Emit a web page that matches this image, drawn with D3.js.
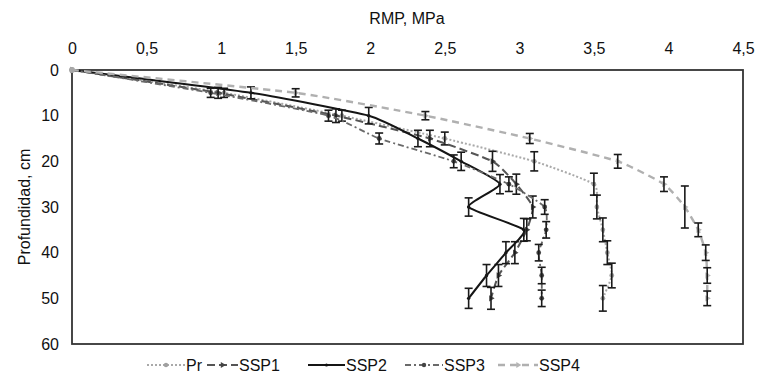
<!doctype html>
<html lang="es">
<head>
  <meta charset="utf-8">
  <title>RMP vs profundidad</title>
  <style>
    body { margin: 0; background: #fff; }
    svg { font-family: "Liberation Sans", Arial, sans-serif; }
  </style>
</head>
<body>
  <script src="https://cdn.jsdelivr.net/npm/d3@7/dist/d3.min.js"></script>
  <svg width="761" height="386"></svg>
  <script>
    // depth (cm) and RMP (MPa) per treatment
    const depth = [0, 5, 10, 15, 20, 25, 30, 35, 40, 45, 50];
    const pr   = [0, 1.02, 1.81, 2.50, 3.10, 3.50, 3.52, 3.56, 3.59, 3.62, 3.56];
    const ssp1 = [0, 0.98, 1.77, 2.40, 2.82, 2.98, 3.09, 3.05, 2.97, 2.86, 2.81];
    const ssp2 = [0, 1.20, 1.99, 2.32, 2.61, 2.87, 2.66, 3.03, 2.91, 2.78, 2.66];
    const ssp3 = [0, 0.93, 1.72, 2.06, 2.56, 2.93, 3.17, 3.18, 3.13, 3.15, 3.15];
    const ssp4 = [0, 1.50, 2.37, 3.07, 3.66, 3.97, 4.11, 4.20, 4.25, 4.26, 4.26];
    // half length of the (vertical) error bars, cm
    const prErr   = [0, 1.0, 1.2, 1.4, 2.1, 2.4, 2.6, 2.6, 2.6, 2.7, 2.8];
    const ssp1Err = [0, 1.2, 1.5, 1.8, 2.2, 2.2, 2.4, 2.4, 2.4, 2.4, 2.4];
    const ssp2Err = [0, 1.3, 1.8, 1.8, 2.0, 2.1, 2.0, 2.5, 2.4, 2.4, 2.2];
    const ssp3Err = [0, 1.0, 1.2, 1.2, 1.4, 1.6, 1.6, 1.8, 1.8, 1.8, 1.8];
    const ssp4Err = [0, 0.9, 0.9, 1.1, 1.5, 1.6, 4.6, 1.5, 1.7, 1.7, 1.6];
    const xTicks = [0, 0.5, 1, 1.5, 2, 2.5, 3, 3.5, 4, 4.5];
    const yTicks = [0, 10, 20, 30, 40, 50, 60];

    const series = [
      {name: "Pr",   vals: pr,   err: prErr,   color: "#a9a9a9", dash: "2,2",     width: 2,   marker: "circle", mcol: "#a0a0a0"},
      {name: "SSP1", vals: ssp1, err: ssp1Err, color: "#555",    dash: "8,4",     width: 2,   marker: "tri",    mcol: "#444"},
      {name: "SSP2", vals: ssp2, err: ssp2Err, color: "#151515", dash: null,      width: 2,   marker: "dot",    mcol: "#111"},
      {name: "SSP3", vals: ssp3, err: ssp3Err, color: "#6a6a6a", dash: "6,3,2,3", width: 1.8, marker: "circle", mcol: "#444"},
      {name: "SSP4", vals: ssp4, err: ssp4Err, color: "#b0b0b0", dash: "7,5",     width: 2.4, marker: "tri",    mcol: "#b5b5b5"}
    ];

    const svg = d3.select("svg");
    const x = d3.scaleLinear().domain([0, 4.5]).range([72, 743]);
    const y = d3.scaleLinear().domain([0, 60]).range([70, 344]);
    const fmt = d => String(d).replace(".", ",");
    const FS = 16;

    // axes (no tick marks, only labels)
    const xAxis = svg.append("g").attr("transform", "translate(0,54)")
      .call(d3.axisTop(x).tickValues(xTicks).tickSize(0).tickPadding(0).tickFormat(fmt));
    xAxis.select(".domain").remove();
    xAxis.selectAll("text").attr("font-size", FS).attr("fill", "#111").attr("font-family", "Liberation Sans, Arial, sans-serif");

    const yAxis = svg.append("g").attr("transform", "translate(59,0)")
      .call(d3.axisLeft(y).tickValues(yTicks).tickSize(0).tickPadding(0));
    yAxis.select(".domain").remove();
    yAxis.selectAll("text").attr("font-size", FS).attr("fill", "#111").attr("font-family", "Liberation Sans, Arial, sans-serif");

    svg.append("text").attr("x", 407).attr("y", 24).attr("text-anchor", "middle")
      .attr("font-size", FS).attr("fill", "#111").text("RMP, MPa");
    svg.append("text").attr("transform", "translate(30,207) rotate(-90)")
      .attr("text-anchor", "middle").attr("font-size", FS).attr("fill", "#111").text("Profundidad, cm");

    // frame
    svg.append("rect").attr("x", x(0)).attr("y", y(0))
      .attr("width", x(4.5) - x(0)).attr("height", y(60) - y(0))
      .attr("fill", "none").attr("stroke", "#333").attr("stroke-width", 1.8);

    const line = d3.line().curve(d3.curveCardinal.tension(0.5)).x(d => x(d[0])).y(d => y(d[1]));

    function drawMarker(g, s, cx, cy, sz) {
      if (s.marker === "circle") {
        g.append("circle").attr("cx", cx).attr("cy", cy).attr("r", sz).attr("fill", s.mcol);
      } else if (s.marker === "tri") {
        g.append("path").attr("d", d3.symbol(d3.symbolTriangle, sz * sz * 3)())
          .attr("transform", `translate(${cx},${cy}) rotate(90)`).attr("fill", s.mcol);
      } else {
        g.append("circle").attr("cx", cx).attr("cy", cy).attr("r", sz * 0.7).attr("fill", s.mcol);
      }
    }

    series.forEach(s => {
      const pts = s.vals.map((v, i) => [v, depth[i], s.err[i]]);
      const g = svg.append("g");
      g.append("path").datum(pts).attr("d", line)
        .attr("fill", "none").attr("stroke", s.color).attr("stroke-width", s.width)
        .attr("stroke-dasharray", s.dash);
      pts.forEach(p => drawMarker(g, s, x(p[0]), y(p[1]), 2.4));
      // error bars
      const eb = g.selectAll(".eb").data(pts.filter(p => p[2] > 0)).enter().append("g")
        .attr("stroke", "#1a1a1a").attr("stroke-width", 1.6);
      eb.append("line").attr("x1", p => x(p[0])).attr("x2", p => x(p[0]))
        .attr("y1", p => y(p[1] - p[2])).attr("y2", p => y(p[1] + p[2]));
      eb.append("line").attr("x1", p => x(p[0]) - 4).attr("x2", p => x(p[0]) + 4)
        .attr("y1", p => y(p[1] - p[2])).attr("y2", p => y(p[1] - p[2]));
      eb.append("line").attr("x1", p => x(p[0]) - 4).attr("x2", p => x(p[0]) + 4)
        .attr("y1", p => y(p[1] + p[2])).attr("y2", p => y(p[1] + p[2]));
    });

    // origin marker
    svg.append("circle").attr("cx", x(0)).attr("cy", y(0)).attr("r", 3).attr("fill", "#a8a8a8");

    // legend
    const legX = [147, 207, 308, 405, 498];
    const legLen = [38, 31, 37, 38, 40];
    const leg = svg.append("g").attr("transform", "translate(0,365)");
    series.forEach((s, i) => {
      const g = leg.append("g").attr("transform", `translate(${legX[i]},0)`);
      g.append("line").attr("x1", 0).attr("x2", legLen[i]).attr("y1", 0).attr("y2", 0)
        .attr("stroke", s.color).attr("stroke-width", s.width).attr("stroke-dasharray", s.dash);
      drawMarker(g, s, legLen[i] / 2, 0, 2.2);
      g.append("text").attr("x", legLen[i] + 1).attr("y", 6).attr("font-size", FS).attr("fill", "#111").text(s.name);
    });
  </script>
</body>
</html>
